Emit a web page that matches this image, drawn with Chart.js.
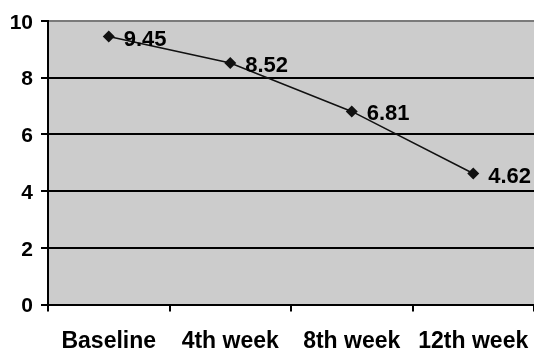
<!DOCTYPE html>
<html>
<head>
<meta charset="utf-8">
<script src="https://cdn.jsdelivr.net/npm/chart.js@4/dist/chart.umd.min.js"></script>
<style>
  html, body { margin: 0; padding: 0; background: #fff; overflow: hidden; }
  canvas { display: block; }
</style>
</head>
<body>
<canvas id="c" width="534" height="352"></canvas>
<script>
// Visit labels and mean scores
const categories = ['Baseline', '4th week', '8th week', '12th week'];
const scores = [9.45, 8.52, 6.81, 4.62];
const yTicks = [0, 2, 4, 6, 8, 10];

const FONT = '"Liberation Sans", Arial, sans-serif';

// Writes each point's value just to the right of its marker
const valueLabels = {
  id: 'valueLabels',
  afterDatasetsDraw(chart) {
    const ctx = chart.ctx;
    const meta = chart.getDatasetMeta(0);
    ctx.save();
    ctx.font = 'bold 22px ' + FONT;
    ctx.fillStyle = '#000';
    ctx.textAlign = 'left';
    ctx.textBaseline = 'middle';
    meta.data.forEach((pt, i) => {
      ctx.fillText(String(scores[i]), pt.x + 15, pt.y + 3);
    });
    ctx.restore();
  }
};

// Grey plot-area background
const plotBackground = {
  id: 'plotBackground',
  beforeDraw(chart) {
    const { ctx, chartArea: a } = chart;
    ctx.save();
    ctx.fillStyle = '#cccccc';
    ctx.fillRect(a.left, a.top, a.right - a.left, a.bottom - a.top);
    ctx.restore();
  }
};

new Chart(document.getElementById('c'), {
  type: 'line',
  data: {
    labels: categories,
    datasets: [{
      data: scores,
      borderColor: '#111',
      borderWidth: 1.5,
      pointStyle: 'rectRot',
      pointRadius: 6,
      pointHoverRadius: 6,
      pointBackgroundColor: '#111',
      pointBorderColor: '#111',
      pointBorderWidth: 0,
      tension: 0,
      fill: false
    }]
  },
  options: {
    responsive: false,
    maintainAspectRatio: false,
    devicePixelRatio: 1,
    animation: false,
    layout: { autoPadding: false, padding: { left: 0, right: 0, top: 21, bottom: 0 } },
    plugins: { legend: { display: false }, tooltip: { enabled: false } },
    scales: {
      x: {
        offset: true,
        grid: {
          offset: true,
          drawOnChartArea: false,
          drawTicks: true,
          tickLength: 7,
          lineWidth: 2,
          color: (c) => (c.index === categories.length ? 'rgba(0,0,0,0)' : '#000')
        },
        border: { display: true, color: '#000', width: 2 },
        ticks: {
          color: '#000',
          font: { family: FONT, size: 23, weight: 'bold' },
          padding: 16,
          maxRotation: 0,
          autoSkip: false
        },
        afterFit(scale) {
          scale.height = 47.5;
          scale.paddingLeft = 0;
          scale.paddingRight = 0;
        }
      },
      y: {
        min: 0,
        max: 10,
        afterBuildTicks(scale) { scale.ticks = yTicks.map(v => ({ value: v })); },
        grid: {
          color: (c) => (c.tick && c.tick.value === 10 ? '#7a7a7a' : '#000'),
          tickColor: '#000',
          lineWidth: 2,
          tickLength: 7,
          drawTicks: true
        },
        border: { display: true, color: '#000', width: 2 },
        ticks: {
          color: '#000',
          font: { family: FONT, size: 21, weight: 'bold' },
          padding: 8,
          labelOffset: 2
        },
        afterFit(scale) {
          scale.width = 48;
          scale.paddingTop = 0;
          scale.paddingBottom = 0;
        }
      }
    }
  },
  plugins: [plotBackground, valueLabels]
});
</script>
</body>
</html>
